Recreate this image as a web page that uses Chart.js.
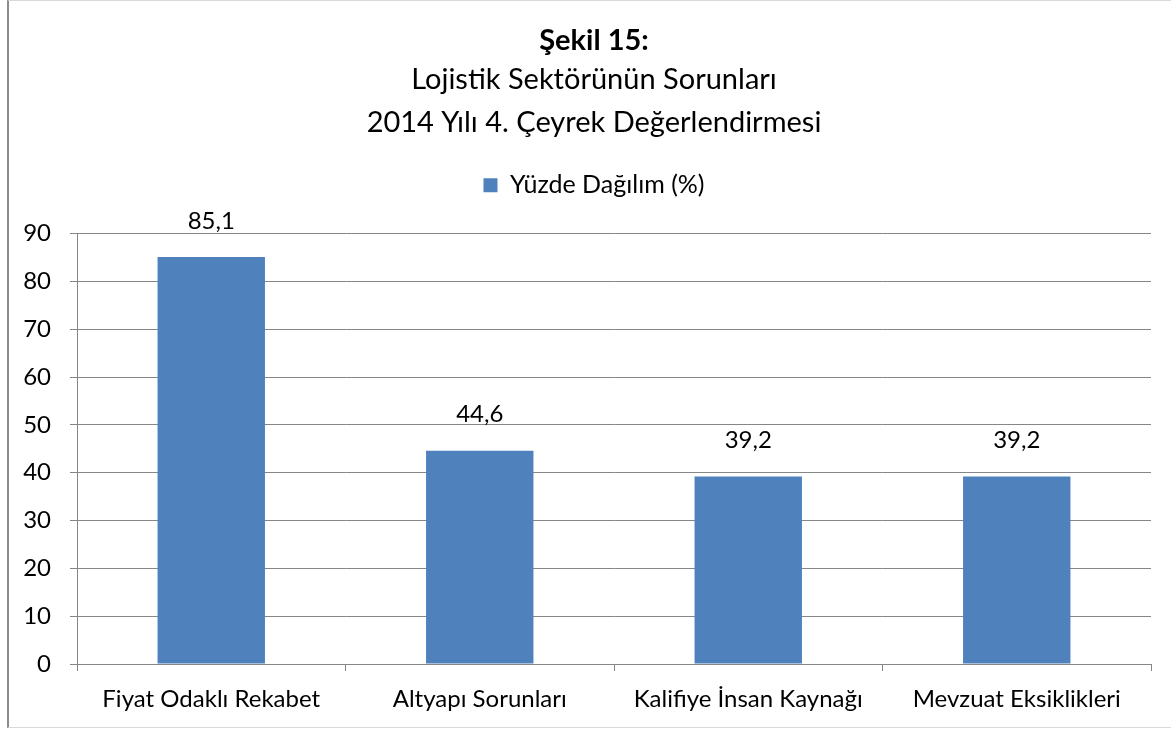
<!DOCTYPE html>
<html>
<head>
<meta charset="utf-8">
<script src="https://cdn.jsdelivr.net/npm/chart.js@4"></script>
<style>
  html, body { margin: 0; padding: 0; background: #fff; }
  #wrap { position: relative; width: 1171px; height: 731px; }
  #frame {
    position: absolute; left: 7px; top: 0; width: 1170px; height: 728px;
    border-top: 1px solid #d9d9d9; border-bottom: 1px solid #d9d9d9;
    border-left: 2px solid #8c8c8c; box-sizing: border-box; pointer-events: none;
  }
</style>
</head>
<body>
<div id="wrap">
  <canvas id="myBarChart" width="1171" height="731"></canvas>
  <div id="frame"></div>
</div>
<script>
// Veriler
const categories = ['Fiyat Odaklı Rekabet', 'Altyapı Sorunları', 'Kalifiye İnsan Kaynağı', 'Mevzuat Eksiklikleri'];
const values = [85.1, 44.6, 39.2, 39.2];
const seriesName = 'Yüzde Dağılım (%)';
const yTicks = [0, 10, 20, 30, 40, 50, 60, 70, 80, 90];

const FONT = 'Lato, "Open Sans", sans-serif';
const gridColor = '#868686';

// etiketler barların üstünde
const valueLabels = {
    id: 'valueLabels',
    afterDatasetsDraw(chart) {
        const ctx = chart.ctx;
        const meta = chart.getDatasetMeta(0);
        ctx.save();
        ctx.font = '24px ' + FONT;
        ctx.fillStyle = '#000';
        ctx.textAlign = 'center';
        ctx.textBaseline = 'middle';
        meta.data.forEach((bar, i) => {
            ctx.fillText(values[i].toFixed(1).replace('.', ','), bar.x, bar.y - 36);
        });
        ctx.restore();
    }
};

// legend altına boşluk + başlıkları biraz sağa kaydır
const headerShift = {
    id: 'headerShift',
    beforeInit(chart) {
        const fit = chart.legend.fit;
        chart.legend.fit = function() {
            fit.bind(chart.legend)();
            this.height += 26;
        };
    },
    afterLayout(chart) {
        chart.boxes.forEach(b => {
            if (b.fullSize && b.position === 'top') {
                b.left += 37;
                b.width -= 37;
            }
        });
    }
};

const ctx = document.getElementById('myBarChart').getContext('2d');
new Chart(ctx, {
    type: 'bar',
    data: {
        labels: categories,
        datasets: [{
            label: seriesName,
            data: values,
            backgroundColor: '#4f81bd',
            borderWidth: 0,
            barPercentage: 0.4,
            categoryPercentage: 1
        }]
    },
    options: {
        responsive: false,
        animation: false,
        layout: { padding: { left: 0, right: 20, top: 0, bottom: 0 } },
        plugins: {
            title: {
                display: true,
                text: 'Şekil 15:',
                color: '#000',
                font: { family: FONT, size: 29, weight: 'bold', lineHeight: 1.2 },
                padding: { top: 23, bottom: 0 }
            },
            subtitle: {
                display: true,
                text: ['Lojistik Sektörünün Sorunları', '2014 Yılı 4. Çeyrek Değerlendirmesi'],
                color: '#000',
                font: { family: FONT, size: 29, lineHeight: 1.48 },
                padding: { top: 0, bottom: 19 }
            },
            legend: {
                position: 'top',
                labels: {
                    color: '#000',
                    font: { family: FONT, size: 25 },
                    boxWidth: 14,
                    boxHeight: 14,
                    padding: 10
                }
            },
            tooltip: { enabled: false }
        },
        scales: {
            x: {
                grid: { drawOnChartArea: false, drawTicks: true, tickLength: 7, color: gridColor, offset: true },
                border: { color: gridColor },
                ticks: { color: '#000', font: { family: FONT, size: 24 }, padding: 14, maxRotation: 0 },
                afterFit(scale) { scale.height = 67; }
            },
            y: {
                min: 0,
                max: 90,
                afterBuildTicks(scale) { scale.ticks = yTicks.map(v => ({ value: v })); },
                grid: { color: gridColor, tickLength: 7 },
                border: { color: gridColor },
                ticks: { color: '#000', font: { family: FONT, size: 24 }, padding: 19 },
                afterFit(scale) { scale.width = 77; }
            }
        }
    },
    plugins: [valueLabels, headerShift]
});
</script>
</body>
</html>
